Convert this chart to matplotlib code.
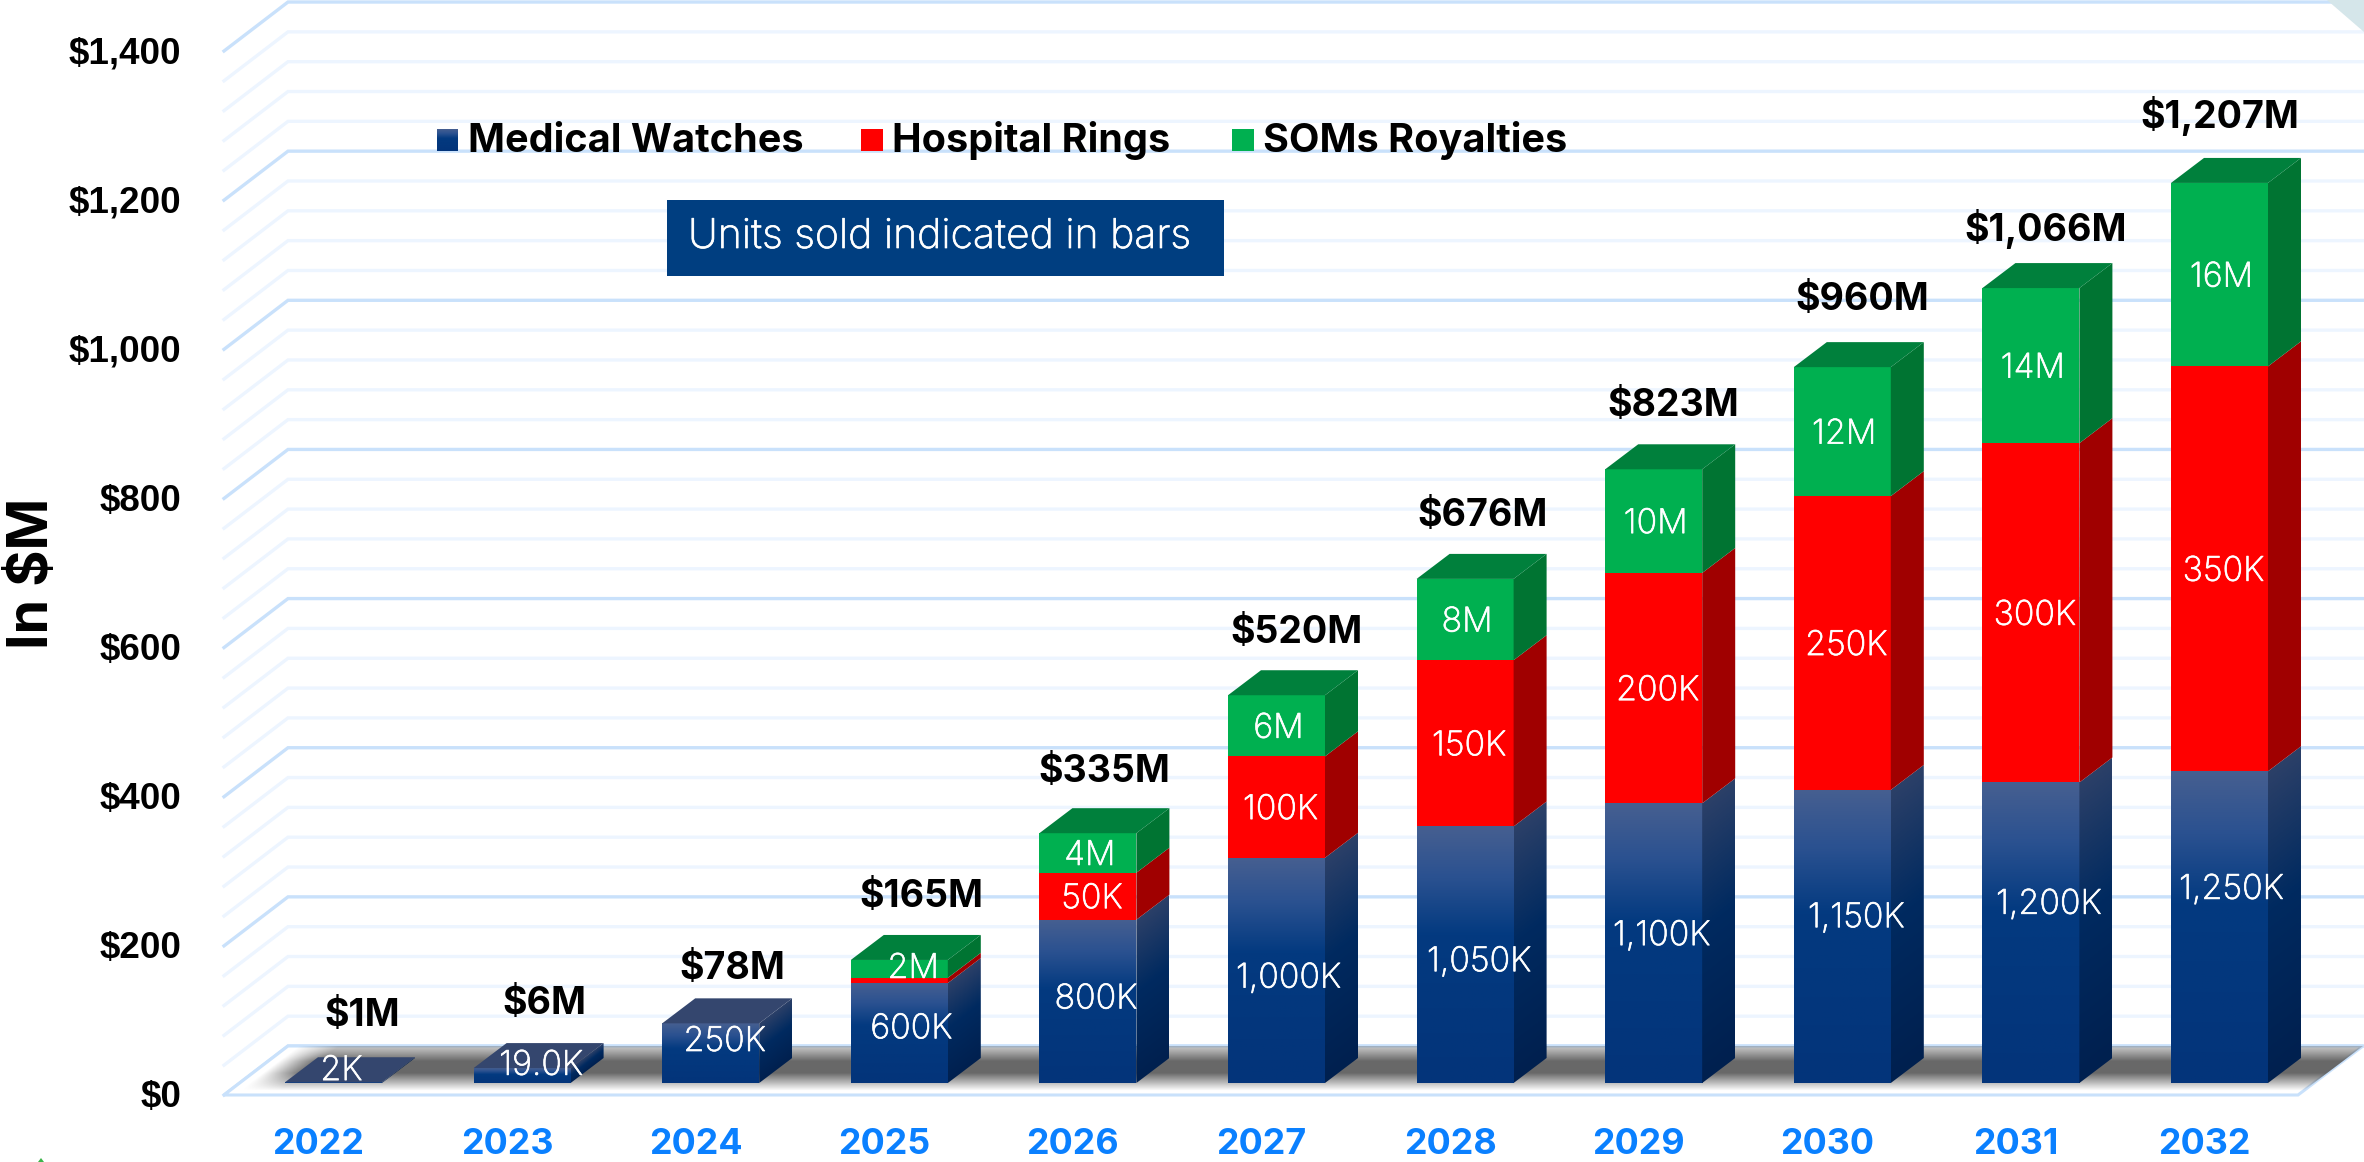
import numpy as np
import matplotlib
matplotlib.use("Agg")
import matplotlib.pyplot as plt
import matplotlib.patheffects as pe
from matplotlib.colors import LinearSegmentedColormap
from matplotlib.patches import Polygon, Rectangle

# Data, $M
years = ["2022", "2023", "2024", "2025", "2026", "2027", "2028", "2029", "2030", "2031", "2032"]
medical = [1, 20, 80, 134, 219, 302, 344, 375, 393, 403, 418]
rings = [0, 0, 0, 7, 63, 136, 223, 309, 394, 455, 543]
soms = [0, 0, 0, 24, 53, 82, 109, 139, 173, 208, 246]
totals = ["$1M", "$6M", "$78M", "$165M", "$335M", "$520M", "$676M", "$823M", "$960M", "$1,066M", "$1,207M"]
medical_units = ["2K", "19.0K", "250K", "600K", "800K", "1,000K", "1,050K", "1,100K", "1,150K", "1,200K", "1,250K"]
rings_units = ["", "", "", "", "50K", "100K", "150K", "200K", "250K", "300K", "350K"]
soms_units = ["", "", "", "2M", "4M", "6M", "8M", "10M", "12M", "14M", "16M"]
y_ticks = [0, 200, 400, 600, 800, 1000, 1200, 1400]
legend_names = ["Medical Watches", "Hospital Rings", "SOMs Royalties"]

# Where the labels sit, not derived from the bars in the original
total_label_y = [94, 110, 157, 253, 421, 607, 764, 912, 1054, 1149, 1301]
total_label_dx = [29, 22, 22, 22, 16, 20, 17, 20, 20, 15, 0]
medical_label_y = [20, 27, 59, 76, 116, 144, 166, 201, 225, 243, 263]
medical_label_dx = [8, 19, 14, 12, 8, 12, 14, 8, 14, 18, 12]

W, H = 2364, 1162
X0, STEP, BAR_W = 333.5, 188.6, 97.0
Y0, YSCALE = 1083.0, 0.7457

# offsets in data units, from pixels
def dx(px):
    return px / STEP

def dy(px):
    return px / YSCALE

DEPTH_X, DEPTH_Y = dx(33), dy(25)
HALF = dx(BAR_W / 2)
FONT = "Inter"
TEXT_SHIFT = dy(3)  # text sits a little low in the original
THICKEN = [pe.withStroke(linewidth=0.5, foreground="white")]  # light weight comes out too faint

blue_front = LinearSegmentedColormap.from_list("bf", [(0, "#03347a"), (0.58, "#033a80"), (0.8, "#2a5190"), (1, "#465f91")])
blue_side = LinearSegmentedColormap.from_list("bs", [(0, "#00204f"), (0.55, "#002a60"), (1, "#2c4068")])
vert = np.linspace(0, 1, 128).reshape(-1, 1)

fig = plt.figure(figsize=(W / 100, H / 100), dpi=100)
ax = fig.add_axes([0, 0, 1, 1])
ax.axis("off")

# walls
left_front, left_back = dx(224 - X0), dx(288 - X0)
right_front, right_back = dx(2298 - X0), dx(2363 - X0)
back_off, front_off = dy(1083 - 1046), dy(1083 - 1095)
for v in range(0, 1401, 40):
    major = v % 200 == 0
    c = "#c9e1fb" if major else "#edf5ff"
    ax.plot([left_front, left_back, right_back], [v + front_off, v + back_off, v + back_off],
            color=c, lw=2.4, zorder=1, solid_joinstyle="miter")

# floor and its soft shadow
floor = Polygon([(left_front, front_off), (right_front, front_off), (right_back, back_off), (left_back, back_off)],
                closed=True, fc="white", ec="#c9e1fb", lw=2.2, zorder=2)
ax.add_patch(floor)
px, py = np.meshgrid(np.arange(200, 2364), np.arange(1046, 1096))
x_left = 288 - (py - 1046) * 64 / 49
fade_left = np.clip((px - x_left - 10) / 40, 0, 1)
fade_back = np.clip((py - 1047) / 14, 0, 1) * 0.6 + 0.4
fade_front = np.clip((1091 - py) / 18, 0, 1)
shadow = np.zeros(px.shape + (4,))
shadow[..., :3] = 0.38
shadow[..., 3] = fade_left * fade_back * fade_front * 0.95
im = ax.imshow(shadow, extent=(dx(200 - X0), dx(2364 - X0), front_off, back_off), origin="upper",
               aspect="auto", zorder=3, interpolation="bilinear")
im.set_clip_path(Polygon(floor.get_xy(), closed=True, transform=ax.transData))

# bars
for i in range(len(years)):
    bottoms = [0, medical[i], medical[i] + rings[i]]
    tops = [medical[i], medical[i] + rings[i], medical[i] + rings[i] + soms[i]]
    l, r = i - HALF, i + HALF
    z = 5 + i
    # medical, gradient faces, the side gradient follows the slant
    b, t = bottoms[0], tops[0]
    ax.imshow(vert, cmap=blue_front, extent=(l, r, b, t), origin="lower", aspect="auto", zorder=z)
    sx, sy = np.meshgrid(np.linspace(0, 1, 40), np.linspace(b, t + DEPTH_Y, 200))
    slant = np.clip((sy - b - sx * DEPTH_Y) / max(t - b, 1), 0, 1)
    im = ax.imshow(slant, cmap=blue_side, vmin=0, vmax=1, extent=(r, r + DEPTH_X, b, t + DEPTH_Y),
                   origin="lower", aspect="auto", zorder=z)
    im.set_clip_path(Polygon([(r, b), (r + DEPTH_X, b + DEPTH_Y), (r + DEPTH_X, t + DEPTH_Y), (r, t)],
                             closed=True, transform=ax.transData))
    # rings and soms, flat faces
    for b, t, front, side in [(bottoms[1], tops[1], "#ff0000", "#a00000"), (bottoms[2], tops[2], "#00b050", "#007432")]:
        if t > b:
            ax.add_patch(Rectangle((l, b), r - l, t - b, fc=front, ec="none", zorder=z))
            ax.add_patch(Polygon([(r, b), (r + DEPTH_X, b + DEPTH_Y), (r + DEPTH_X, t + DEPTH_Y), (r, t)],
                                 closed=True, fc=side, ec="none", zorder=z))
    top = tops[2]
    top_color = "#00803c" if soms[i] else "#34466e"
    ax.add_patch(Polygon([(l, top), (r, top), (r + DEPTH_X, top + DEPTH_Y), (l + DEPTH_X, top + DEPTH_Y)],
                         closed=True, fc=top_color, ec="none", zorder=z))

    # labels
    ax.text(i + dx(medical_label_dx[i]), medical_label_y[i] - TEXT_SHIFT, medical_units[i], color="white", fontsize=24.5,
            family=FONT, weight="light", ha="center", va="center", zorder=40, path_effects=THICKEN)
    if rings_units[i]:
        ax.text(i + dx(4), (bottoms[1] + tops[1]) / 2 - TEXT_SHIFT, rings_units[i], color="white", fontsize=24.5,
                family=FONT, weight="light", ha="center", va="center", zorder=40, path_effects=THICKEN)
    if soms_units[i]:
        ax.text(i + dx(2 if i > 3 else 14), (bottoms[2] + tops[2]) / 2 + (4 if i == 3 else 0) - TEXT_SHIFT, soms_units[i],
                color="white", fontsize=24.5, family=FONT, weight="light", ha="center", va="center", zorder=40, path_effects=THICKEN)
    ax.text(i + dx(total_label_dx[i]), total_label_y[i] - TEXT_SHIFT, totals[i], color="black", fontsize=27,
            family=FONT, weight="bold", ha="center", va="center", zorder=40)
    ax.text(i - dx(15), dy(1083 - 1145), years[i], color="#0a80ff", fontsize=25.8,
            family=FONT, weight="bold", ha="center", va="center", zorder=40)

# y axis labels
for v in y_ticks:
    ax.text(dx(181 - X0), v + front_off - TEXT_SHIFT, f"${v:,}", color="black", fontsize=26.5,
            family="Liberation Sans", weight="bold", ha="right", va="center", zorder=40)
ax.text(dx(33 - X0), dy(1083 - 573), "In $M", color="black", fontsize=40, family=FONT, weight="bold",
        rotation=90, ha="center", va="center", zorder=40)

# legend
legend_x = [437, 861, 1232]
legend_y0, legend_y1 = dy(1083 - 151), dy(1083 - 129)
ax.imshow(vert, cmap=blue_front, extent=(dx(437 - X0), dx(458 - X0), legend_y0, legend_y1), origin="lower", aspect="auto", zorder=30)
ax.add_patch(Rectangle((dx(861 - X0), legend_y0), dx(22), legend_y1 - legend_y0, fc="#ff0000", ec="none", zorder=30))
ax.add_patch(Rectangle((dx(1232 - X0), legend_y0), dx(22), legend_y1 - legend_y0, fc="#00b050", ec="none", zorder=30))
for lx, name in zip(legend_x, legend_names):
    ax.text(dx(lx + 31 - X0), dy(1083 - 141), name, color="black", fontsize=28.5, family=FONT, weight="bold",
            ha="left", va="center", zorder=31)

# note box
ax.add_patch(Rectangle((dx(667 - X0), dy(1083 - 276)), dx(1224 - 667), dy(76), fc="#003e80", ec="none", zorder=30))
ax.text(dx(688 - X0), dy(1083 - 237), "Units sold indicated in bars", color="white", fontsize=29.5,
        family=FONT, weight="light", ha="left", va="center", zorder=31, path_effects=THICKEN)

# corner scrap top right, speck bottom left
ax.add_patch(Polygon([(dx(2327 - X0), dy(1083)), (dx(2364 - X0), dy(1083)), (dx(2364 - X0), dy(1083 - 32))],
                     closed=True, fc="#d5e6ea", ec="none", zorder=2))
ax.add_patch(Polygon([(dx(38 - X0), dy(1083 - 1162)), (dx(44 - X0), dy(1083 - 1162)), (dx(41 - X0), dy(1083 - 1158))],
                     closed=True, fc="#3cb44a", ec="none", zorder=2))

ax.set_xlim(dx(-X0), dx(W - X0))
ax.set_ylim(dy(Y0 - H), dy(Y0))
fig.savefig("out.png", dpi=100)
